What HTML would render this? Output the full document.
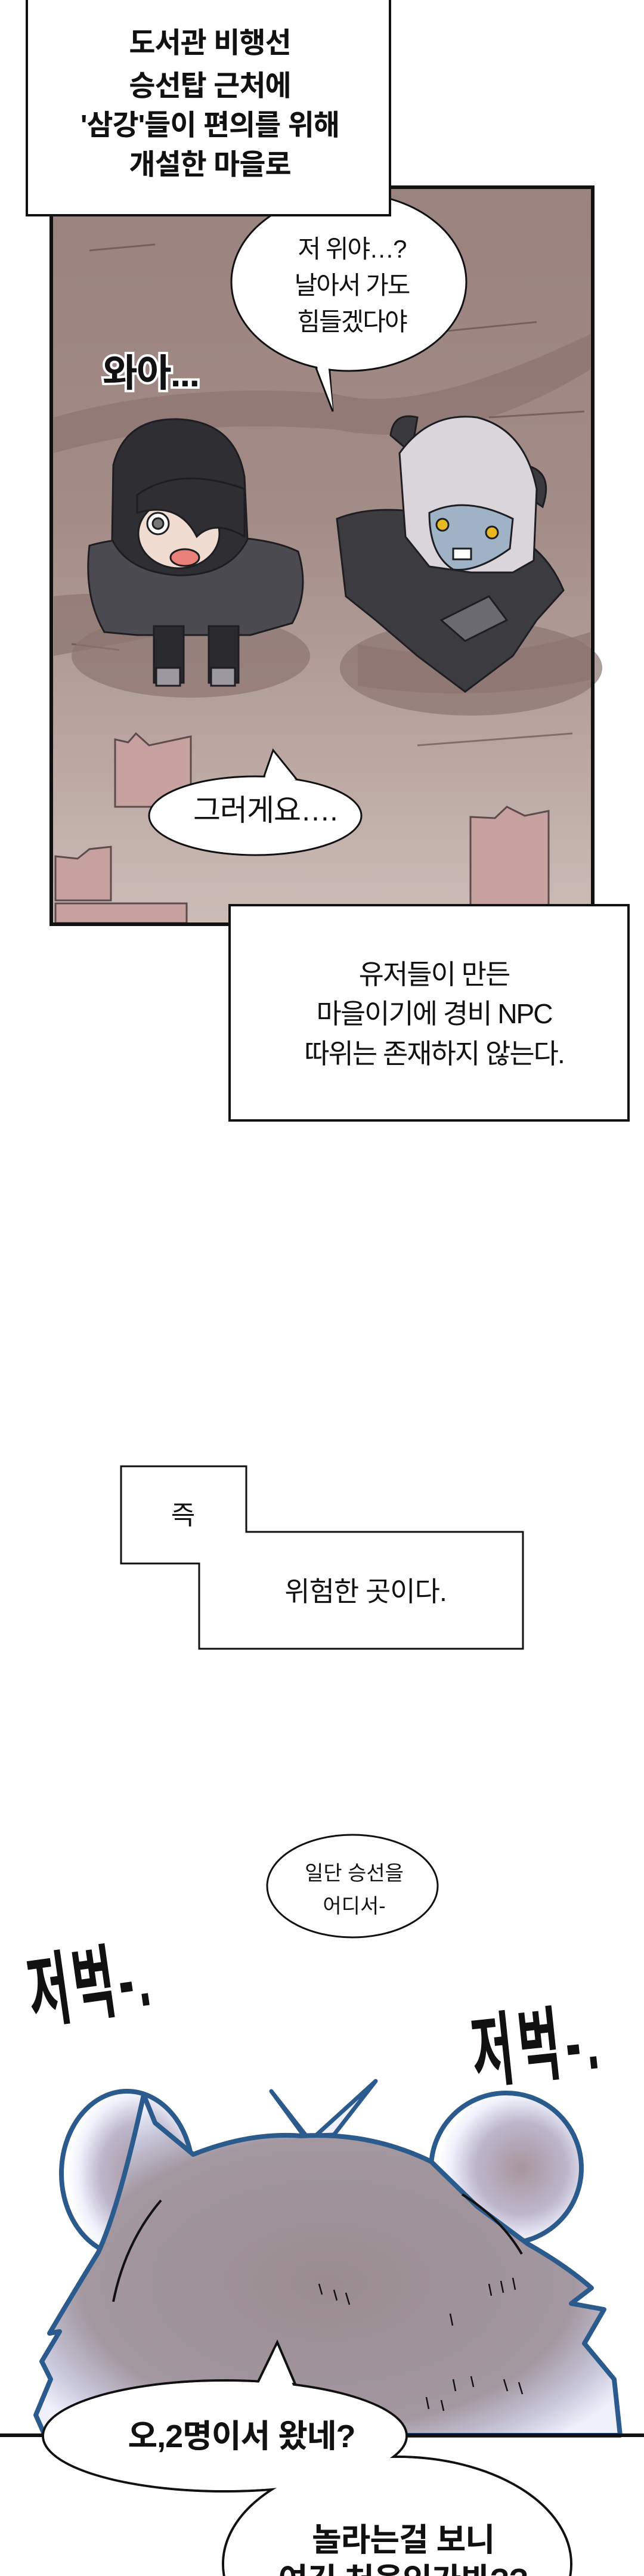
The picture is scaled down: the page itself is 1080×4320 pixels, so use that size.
<!DOCTYPE html>
<html><head><meta charset="utf-8">
<style>
html,body{margin:0;padding:0;background:#fff;}
body{width:1080px;height:4320px;position:relative;overflow:hidden;font-family:"Liberation Sans","Noto Sans CJK KR",sans-serif;}
svg{position:absolute;left:0;top:0;}
.t{font-family:"Liberation Sans","Noto Sans CJK KR",sans-serif;fill:#111;text-anchor:middle;}
</style></head><body>
<svg width="1080" height="4320" viewBox="0 0 1080 4320">
<defs>
<linearGradient id="bg" x1="0" y1="0" x2="0" y2="1">
<stop offset="0" stop-color="#9a837f"/><stop offset="0.45" stop-color="#a38c87"/><stop offset="0.75" stop-color="#b9a5a0"/><stop offset="1" stop-color="#ccbcb7"/>
</linearGradient>
<radialGradient id="bear" cx="0.5" cy="0.55" r="0.6">
<stop offset="0" stop-color="#9a8c90"/><stop offset="0.7" stop-color="#a397a0"/><stop offset="0.88" stop-color="#c9c8dc"/><stop offset="1" stop-color="#eef0fb"/>
</radialGradient>
<radialGradient id="ear" cx="0.6" cy="0.5" r="0.55">
<stop offset="0" stop-color="#a8959c"/><stop offset="0.55" stop-color="#bdb6cc"/><stop offset="0.85" stop-color="#eef0fb"/><stop offset="1" stop-color="#ffffff"/>
</radialGradient>
</defs>

<rect x="86" y="314" width="908" height="1236" fill="url(#bg)"/>
<g fill="#8c7571" opacity="0.7">
<path d="M90 700 Q300 640 560 660 Q700 700 990 560 L990 620 Q760 760 560 720 Q300 700 90 760Z"/>
<path d="M90 1000 Q250 980 300 1060 L90 1100Z"/>
<path d="M600 1080 Q800 1120 990 1060 L990 1140 Q800 1180 600 1150Z"/>
</g>
<g stroke="#5a4a48" stroke-width="3" opacity="0.6">
<line x1="150" y1="420" x2="260" y2="410"/><line x1="700" y1="560" x2="900" y2="540"/><line x1="640" y1="980" x2="800" y2="990"/><line x1="700" y1="1250" x2="960" y2="1230"/><line x1="120" y1="1080" x2="200" y2="1090"/><line x1="820" y1="700" x2="980" y2="690"/>
</g>
<ellipse cx="320" cy="1100" rx="200" ry="70" fill="#8b7571" opacity="0.7"/>
<ellipse cx="790" cy="1120" rx="220" ry="80" fill="#8b7571" opacity="0.7"/>
<g fill="#c7a0a0" stroke="#5d4b4d" stroke-width="3">
<path d="M193 1353 L193 1240 L215 1245 L228 1230 L250 1250 L320 1235 L320 1353Z"/>
<path d="M93 1436 L130 1440 L150 1424 L186 1420 L186 1510 L93 1510Z"/>
<path d="M93 1515 L313 1515 L313 1548 L93 1548Z"/>
<path d="M789 1550 L789 1370 L830 1372 L850 1353 L880 1368 L920 1360 L920 1550Z"/>
</g>
<g stroke="#1e1e22" stroke-width="3">
<path d="M150 915 Q140 1000 175 1060 L230 1065 L420 1065 L490 1045 Q520 990 500 925 Q440 895 300 900 Q200 900 150 915Z" fill="#4a4a50"/>
<rect x="258" y="1050" width="50" height="95" fill="#2a2a2e"/>
<rect x="350" y="1050" width="50" height="95" fill="#2a2a2e"/>
<rect x="262" y="1120" width="40" height="30" fill="#9c98a0"/>
<rect x="354" y="1120" width="40" height="30" fill="#9c98a0"/>
<path d="M190 780 Q210 700 300 703 Q395 708 410 800 L415 905 Q385 965 300 965 Q215 960 188 905 Z" fill="#2e2e33"/>
<ellipse cx="300" cy="895" rx="68" ry="58" fill="#f0dcd0"/>
<path d="M230 830 Q300 780 410 820 L410 900 Q360 870 330 900 Q300 840 230 860Z" fill="#2e2e33"/>
<circle cx="265" cy="878" r="18" fill="#fff"/><circle cx="265" cy="878" r="9" fill="#777"/>
<ellipse cx="310" cy="935" rx="24" ry="14" fill="#e9807a"/>
</g>
<g stroke="#1e1e22" stroke-width="3">
<path d="M565 870 Q640 840 760 870 Q900 880 945 990 L900 1040 L860 1100 L780 1160 L700 1100 L630 1040 L580 1000Z" fill="#3b3b40"/>
<path d="M740 1040 L820 1000 L850 1040 L780 1075Z" fill="#6a6a70"/>
<path d="M655 730 Q660 690 700 700 L690 760Z" fill="#3a3a3e"/>
<path d="M880 780 Q930 790 910 850 L880 830Z" fill="#3a3a3e"/>
<path d="M670 760 Q720 690 800 700 Q880 720 900 820 L895 940 L860 960 L790 960 L720 950 L680 900Z" fill="#d9d5db"/>
<path d="M720 860 Q780 830 860 870 L855 920 Q800 960 760 955 Q720 930 720 860Z" fill="#9fb2c6"/>
<circle cx="742" cy="880" r="10" fill="#e8b820"/><circle cx="825" cy="893" r="10" fill="#e8b820"/>
<rect x="760" y="920" width="30" height="18" fill="#fff"/>
</g>
<rect x="86" y="314" width="908" height="1236" fill="none" stroke="#111" stroke-width="6"/>

<path d="M528 612 L558 690 L552 612Z" fill="#fff" stroke="#111" stroke-width="3"/>
<ellipse cx="585" cy="473" rx="197" ry="149" fill="#fff" stroke="#111" stroke-width="3"/>
<path d="M530 610 L558 686 L550 610Z" fill="#fff"/>
<text class="t" font-size="42" x="590" y="432" letter-spacing="-2">저 위야…?</text>
<text class="t" font-size="42" x="590" y="493" letter-spacing="-2">날아서 가도</text>
<text class="t" font-size="42" x="590" y="554" letter-spacing="-2">힘들겠다야</text>

<text x="172" y="648" font-size="64" font-weight="bold" fill="#111" stroke="#fff" stroke-width="8" paint-order="stroke" font-family="Liberation Sans,Noto Sans CJK KR,sans-serif" letter-spacing="-2">와아...</text>

<path d="M440 1310 L458 1258 L500 1310Z" fill="#fff" stroke="#111" stroke-width="3"/>
<ellipse cx="428" cy="1368" rx="178" ry="66" fill="#fff" stroke="#111" stroke-width="3"/>
<path d="M443 1308 L458 1264 L496 1308Z" fill="#fff"/>
<text class="t" font-size="50" x="445" y="1376" letter-spacing="-1">그러게요….</text>

<rect x="45" y="-6" width="609" height="367" fill="#fff" stroke="#111" stroke-width="4"/>
<g class="t" font-size="48" font-weight="bold" letter-spacing="-1">
<text class="t" x="352" y="88">도서관 비행선</text>
<text class="t" x="352" y="160">승선탑 근처에</text>
<text class="t" x="352" y="226">'삼강'들이 편의를 위해</text>
<text class="t" x="352" y="292">개설한 마을로</text>
</g>

<rect x="385" y="1518" width="669" height="361" fill="#fff" stroke="#111" stroke-width="4"/>
<text class="t" font-size="46" x="728" y="1650" letter-spacing="-2">유저들이 만든</text>
<text class="t" font-size="46" x="728" y="1716" letter-spacing="-2">마을이기에 경비 NPC</text>
<text class="t" font-size="46" x="728" y="1783" letter-spacing="-2">따위는 존재하지 않는다.</text>

<path d="M203 2459 L413 2459 L413 2569 L877 2569 L877 2765 L334 2765 L334 2622 L203 2622Z" fill="#fff" stroke="#111" stroke-width="3"/>
<text class="t" font-size="44" x="307" y="2556">즉</text>
<text class="t" font-size="46" x="613" y="2685" letter-spacing="-1">위험한 곳이다.</text>

<ellipse cx="591" cy="3163" rx="143" ry="86" fill="#fff" stroke="#111" stroke-width="3"/>
<text class="t" font-size="34" x="594" y="3153">일단 승선을</text>
<text class="t" font-size="34" x="594" y="3208">어디서-</text>

<text x="0" y="0" font-size="90" font-weight="bold" fill="#111" transform="translate(54 3390) rotate(-8) scale(0.85 1.5)" textLength="240">저벅-.</text>
<text x="0" y="0" font-size="90" font-weight="bold" fill="#111" transform="translate(796 3490) rotate(-6) scale(0.85 1.5)" textLength="250">저벅-.</text>

<ellipse cx="213" cy="3645" rx="110" ry="138" fill="url(#ear)" stroke="#2b5b8c" stroke-width="8"/>
<ellipse cx="849" cy="3636" rx="126" ry="126" fill="url(#ear)" stroke="#2b5b8c" stroke-width="8"/>
<path d="M455 3507 L510 3582 L560 3580 L630 3490 L520 3590Z" fill="#eef0fb" stroke="#2b5b8c" stroke-width="7" stroke-linejoin="round"/>
<path d="M165 3777 Q200 3700 241 3513 L260 3560 L324 3613 Q420 3575 506 3582 Q620 3575 723 3625 L800 3700 L885 3763 Q950 3800 992 3837 L958 3863 L1013 3873 L980 3930 L1030 3990 L1040 4084 L75 4084 L60 4050 L85 3990 L70 3960 L100 3910 L83 3913 Q120 3850 165 3777Z" fill="url(#bear)" stroke="#2b5b8c" stroke-width="8" stroke-linejoin="round"/>
<path d="M270 3690 Q210 3760 190 3860" stroke="#111" stroke-width="4" fill="none"/>
<path d="M775 3680 Q840 3720 875 3780" stroke="#111" stroke-width="4" fill="none"/>
<g stroke="#111" stroke-width="2.5" fill="none">
<path d="M535 3830 l5 18 M560 3840 l5 18 M580 3845 l6 20 M820 3830 l4 20 M840 3825 l4 20 M860 3820 l4 20 M755 3880 l4 20 M760 3990 l4 20 M790 3985 l4 18 M845 3990 l6 20 M870 3995 l6 20 M715 4020 l4 20 M740 4025 l4 18"/>
</g>
<line x1="0" y1="4084" x2="1080" y2="4084" stroke="#111" stroke-width="6"/>

<g stroke="#111" stroke-width="4">
<ellipse cx="377" cy="4085" rx="305" ry="93" fill="#fff"/>
<ellipse cx="666" cy="4300" rx="292" ry="180" fill="#fff"/>
<path d="M430 4000 L465 3928 L495 3998Z" fill="#fff"/>
</g>
<g fill="#fff">
<ellipse cx="377" cy="4085" rx="303" ry="91"/>
<ellipse cx="666" cy="4300" rx="290" ry="178"/>
<path d="M433 4002 L463 3936 L492 4002Z"/>
</g>
<text class="t" font-size="54" font-weight="bold" x="405" y="4104" letter-spacing="-1">오,2명이서 왔네?</text>
<text class="t" font-size="54" font-weight="bold" x="676" y="4278" letter-spacing="-1">놀라는걸 보니</text>
<text class="t" font-size="54" font-weight="bold" x="676" y="4345" letter-spacing="-1">여긴 처음인가봐??</text>
</svg>
</body></html>
